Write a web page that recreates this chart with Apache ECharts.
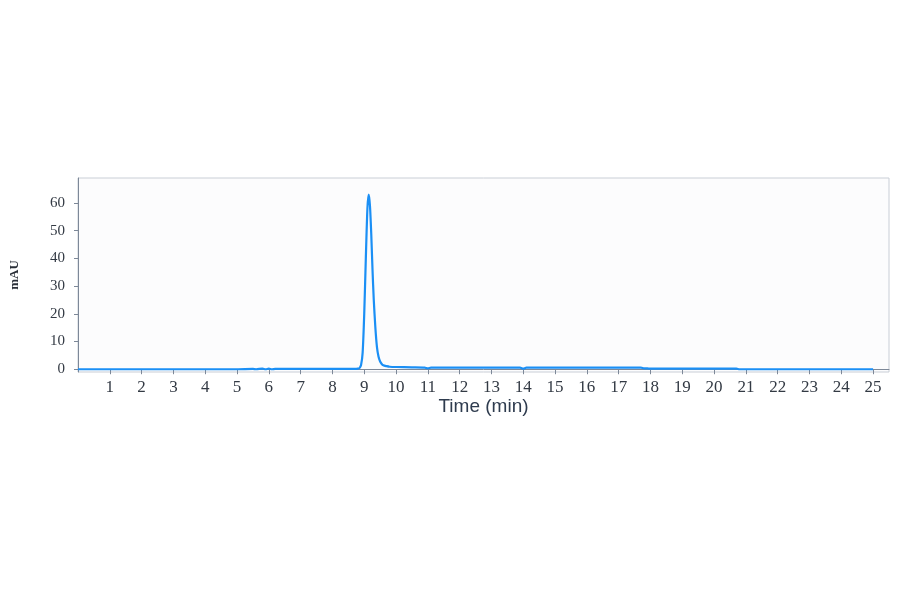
<!DOCTYPE html>
<html>
<head>
<meta charset="utf-8">
<script src="https://cdn.jsdelivr.net/npm/echarts@6/dist/echarts.min.js"></script>
<style>html,body{margin:0;padding:0;background:#fff;}#c{width:900px;height:594px;}</style>
</head>
<body>
<div id="c"></div>
<script>
// Retention time (min)
var times = [0, 1, 2, 3, 4, 5, 5.5, 5.6, 5.8, 5.9, 6.0, 6.1, 6.2, 7, 8, 8.7, 8.8, 8.85, 8.9, 8.95, 9.0, 9.05, 9.1, 9.14, 9.18, 9.22, 9.26, 9.3, 9.35, 9.4, 9.45, 9.5, 9.55, 9.6, 9.7, 9.8, 10.0, 10.5, 10.9, 11.0, 11.1, 11.5, 12, 13, 13.9, 14.0, 14.1, 15, 16, 17, 17.7, 17.8, 17.9, 18.0, 19, 20, 20.7, 20.8, 21, 22, 23, 24, 25];
// Absorbance (mAU)
var mau = [0.0, 0.0, 0.0, 0.0, 0.0, 0.0, 0.1, 0.0, 0.2, 0.0, 0.2, 0.0, 0.1, 0.1, 0.1, 0.1, 0.2, 0.4, 1.5, 6, 20, 40, 58, 63, 59, 49, 36, 25, 15, 8, 4.5, 2.8, 1.9, 1.4, 1.1, 0.9, 0.8, 0.7, 0.6, 0.3, 0.6, 0.6, 0.6, 0.6, 0.6, 0.2, 0.6, 0.6, 0.6, 0.6, 0.6, 0.3, 0.3, 0.2, 0.2, 0.2, 0.2, 0.0, 0.0, 0.0, 0.0, 0.0, 0.0];
var yTicks = [0, 10, 20, 30, 40, 50, 60];

var pts = times.map(function (t, i) { return [t, mau[i]]; });
var chart = echarts.init(document.getElementById('c'), null, {renderer: 'canvas'});
chart.setOption({
  backgroundColor: '#ffffff',
  animation: false,
  grid: {left: 76, top: 178, right: 11, bottom: 222, show: true, backgroundColor: '#fcfcfd', borderColor: '#c9ced6', borderWidth: 1},
  xAxis: {
    type: 'value', min: 0, max: 25.5, interval: 1,
    name: 'Time (min)', nameLocation: 'middle', nameGap: 16,
    nameTextStyle: {fontFamily: 'Liberation Sans', fontSize: 19, color: '#2e3b4e'},
    axisLine: {show: true, lineStyle: {color: '#7d8898', width: 1}},
    axisTick: {show: true, length: 5, lineStyle: {color: '#7d8898'}},
    axisLabel: {showMinLabel: false, showMaxLabel: false, margin: 7, fontFamily: 'Liberation Serif', fontSize: 17, color: '#333a44',
      formatter: function (v) { return (v === 0 || v > 25) ? '' : String(v); }},
    splitLine: {show: false}
  },
  yAxis: {
    type: 'value', min: -1, max: 69,
    name: 'mAU', nameLocation: 'middle', nameGap: 57,
    nameTextStyle: {fontFamily: 'Liberation Serif', fontSize: 13, fontWeight: 'bold', color: '#2a2f38'},
    axisLine: {show: true, lineStyle: {color: '#7d8898', width: 1}},
    axisTick: {show: true, length: 4, customValues: yTicks, lineStyle: {color: '#7d8898'}},
    axisLabel: {customValues: yTicks, margin: 13, fontFamily: 'Liberation Serif', fontSize: 15, color: '#333a44'},
    splitLine: {show: false}
  },
  series: [{
    type: 'line', data: pts, showSymbol: false, smooth: 0.25,
    lineStyle: {color: '#1b8ff5', width: 2.2}
  }]
});
</script>
</body>
</html>
